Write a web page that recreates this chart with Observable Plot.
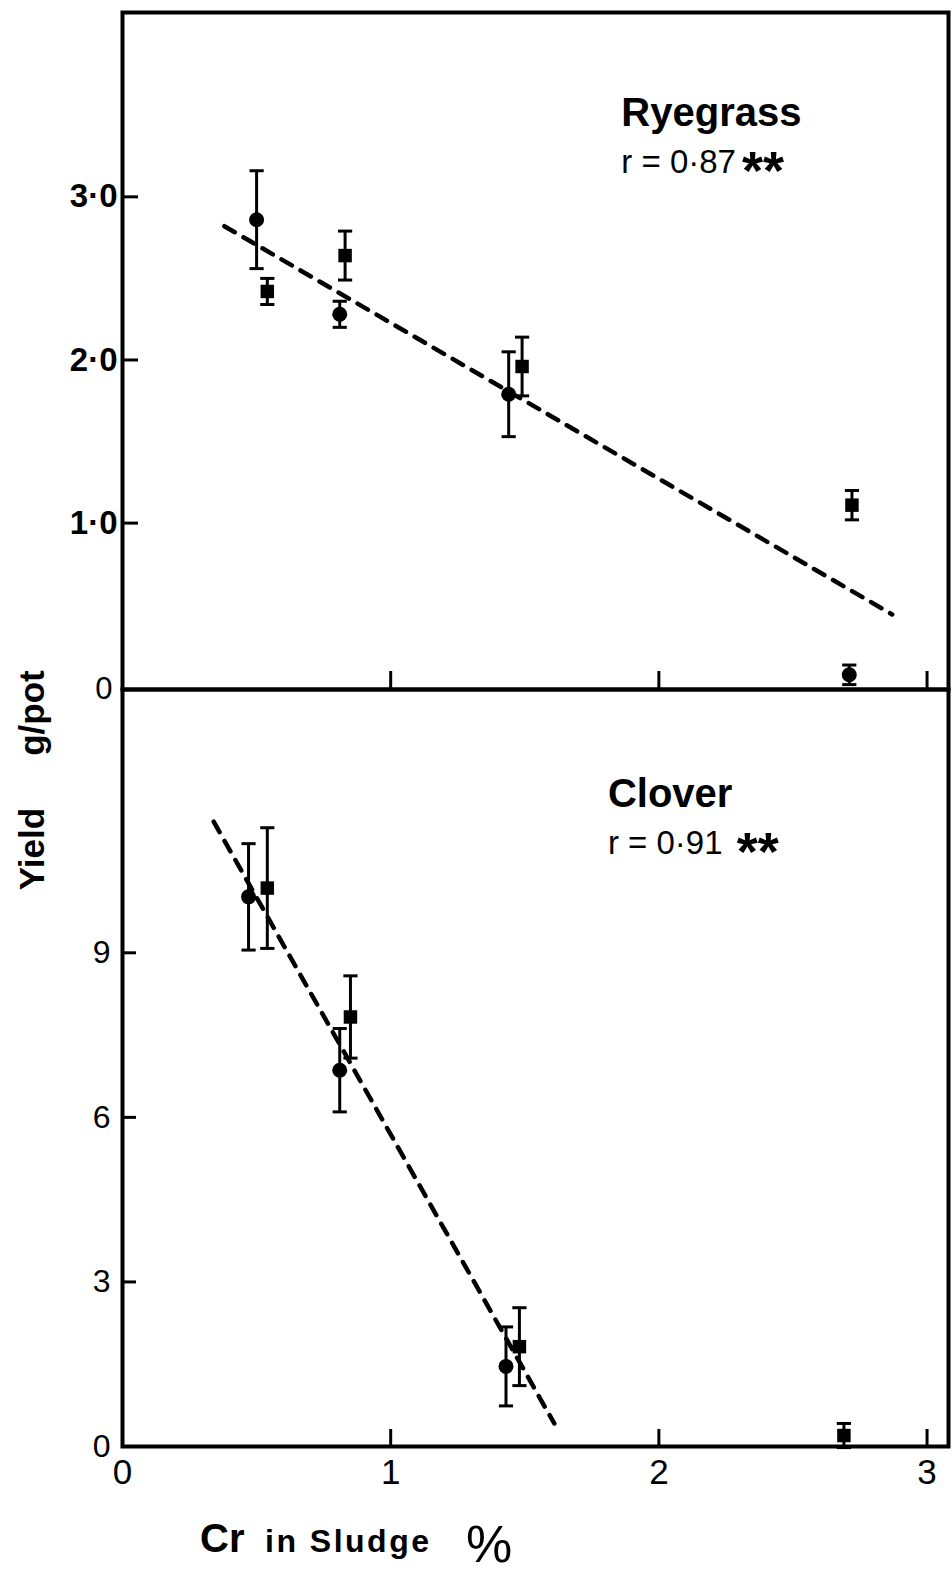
<!DOCTYPE html>
<html><head><meta charset="utf-8">
<script src="https://cdn.jsdelivr.net/npm/d3@7"></script>
<script src="https://cdn.jsdelivr.net/npm/@observablehq/plot@0.6"></script>
<style>
body{margin:0;background:#fff;}
#wrap{position:relative;width:952px;height:1571px;background:#fff;}
#wrap svg{position:absolute;left:0;top:0;overflow:visible;background:transparent;}
</style></head><body><div id="wrap"></div>
<script>
// ---- data ----
const ryeCircleCr    = [0.50, 0.81, 1.44, 2.71];
const ryeCircleYield = [2.86, 2.28, 1.79, 0.07];
const ryeCircleErr   = [0.30, 0.08, 0.26, 0.06];
const ryeSquareCr    = [0.54, 0.83, 1.49, 2.72];
const ryeSquareYield = [2.42, 2.64, 1.96, 1.11];
const ryeSquareErr   = [0.08, 0.15, 0.18, 0.09];
const ryeFitCr       = [0.38, 2.87];
const ryeFitYield    = [2.82, 0.44];

const cloCircleCr    = [0.47, 0.81, 1.43];
const cloCircleYield = [10.02, 6.86, 1.46];
const cloCircleErr   = [0.97, 0.76, 0.72];
const cloSquareCr    = [0.54, 0.85, 1.48, 2.69];
const cloSquareYield = [10.18, 7.83, 1.82, 0.20];
const cloSquareErr   = [1.10, 0.75, 0.71, 0.22];
const cloFitCr       = [0.34, 1.61];
const cloFitYield    = [11.39, 0.42];

const xTicks = [0, 1, 2, 3];
const ryeYTicks = [0, 1, 2, 3];
const cloYTicks = [0, 3, 6, 9];

const ryeLabels = ["Ryegrass", "r = 0·87", "**"];
const cloLabels = ["Clover", "r = 0·91", "**"];

// ---- helpers ----
const pts = (xs, ys, es) => xs.map((x, i) => ({x, y: ys[i], e: es[i]}));
const line = (xs, ys) => xs.map((x, i) => ({x, y: ys[i]}));
const cap = {draw(ctx, size) { const w = Math.sqrt(size); ctx.moveTo(-w / 2, 0); ctx.lineTo(w / 2, 0); }};
const FONT = "'Liberation Sans', Arial, Helvetica, sans-serif";
const fmtRye = d => d === 0 ? "0" : d.toFixed(1).replace(".", "·");

function seriesMarks(circles, squares, fit) {
  const all = circles.concat(squares);
  return [
    Plot.line(fit, {x: "x", y: "y", stroke: "black", strokeWidth: 4.5, strokeDasharray: "12,10", strokeLinecap: "round"}),
    Plot.ruleX(all, {x: "x", y1: d => d.y - d.e, y2: d => d.y + d.e, stroke: "black", strokeWidth: 3}),
    Plot.dot(all, {x: "x", y: d => d.y + d.e, symbol: cap, r: 8, stroke: "black", strokeWidth: 3}),
    Plot.dot(all, {x: "x", y: d => d.y - d.e, symbol: cap, r: 8, stroke: "black", strokeWidth: 3}),
    Plot.dot(circles, {x: "x", y: "y", r: 7.5, fill: "black", stroke: "none"}),
    Plot.dot(squares, {x: "x", y: "y", symbol: "square", r: 7.6, fill: "black", stroke: "none"})
  ];
}

function labelMarks(texts, x, y1, y2, xStar, big) {
  return [
    Plot.text([texts[0]], {x: () => x, y: () => y1, text: d => d, textAnchor: "start", fontSize: big, fontWeight: "bold", fontFamily: FONT}),
    Plot.text([texts[1]], {x: () => x, y: () => y2, text: d => d, textAnchor: "start", fontSize: 33, fontFamily: FONT, letterSpacing: 1.5}),
    Plot.text([texts[2]], {x: () => xStar, y: () => y2, text: d => d, textAnchor: "start", fontSize: 54, fontWeight: "bold", fontFamily: FONT, dy: 9})
  ];
}

// ---- top panel: Ryegrass ----
const topPanel = Plot.plot({
  width: 952, height: 700,
  marginTop: 12, marginBottom: 11, marginLeft: 122, marginRight: 4,
  x: {domain: [0, 3.08]},
  y: {domain: [-0.02, 4.13]},
  style: {fontFamily: FONT, background: "transparent", overflow: "visible"},
  marks: [
    ...seriesMarks(pts(ryeCircleCr, ryeCircleYield, ryeCircleErr), pts(ryeSquareCr, ryeSquareYield, ryeSquareErr), line(ryeFitCr, ryeFitYield)),
    ...labelMarks(ryeLabels, 1.86, 3.51, 3.21, 2.31, 40),
    Plot.axisY({ticks: ryeYTicks.filter(d => d > 0), tickSize: -16, tickFormat: () => "", strokeWidth: 3, label: null}),
    Plot.axisY({ticks: ryeYTicks.filter(d => d > 0), tickSize: 0, tickPadding: 5, tickFormat: fmtRye, fontSize: 33, fontWeight: "bold", label: null}),
    Plot.axisY({ticks: [0], tickSize: 0, tickPadding: 10, tickFormat: fmtRye, fontSize: 31, label: null, dy: 3}),
    Plot.axisX({ticks: xTicks.filter(d => d > 0), tickSize: -18, tickFormat: () => "", strokeWidth: 3, label: null}),
    Plot.frame({stroke: "black", strokeWidth: 4})
  ]
});

// ---- bottom panel: Clover ----
const bottomPanel = Plot.plot({
  width: 952, height: 1571,
  marginTop: 689, marginBottom: 125, marginLeft: 122, marginRight: 4,
  x: {domain: [0, 3.08]},
  y: {domain: [0, 13.8]},
  style: {fontFamily: FONT, background: "transparent", overflow: "visible"},
  marks: [
    ...seriesMarks(pts(cloCircleCr, cloCircleYield, cloCircleErr), pts(cloSquareCr, cloSquareYield, cloSquareErr), line(cloFitCr, cloFitYield)),
    ...labelMarks(cloLabels, 1.81, 11.9, 10.99, 2.29, 40),
    Plot.axisY({ticks: cloYTicks.filter(d => d > 0), tickSize: -14, tickFormat: () => "", strokeWidth: 3, label: null}),
    Plot.axisY({ticks: cloYTicks, tickSize: 0, tickPadding: 12, tickFormat: d => String(d), fontSize: 32, label: null}),
    Plot.axisX({ticks: xTicks.filter(d => d > 0), tickSize: -17, tickFormat: () => "", strokeWidth: 3, label: null}),
    Plot.axisX({ticks: xTicks, tickSize: 0, tickPadding: 13, tickFormat: d => String(d), fontSize: 35, label: null}),
    Plot.frame({stroke: "black", strokeWidth: 4})
  ]
});

const wrap = document.getElementById("wrap");
wrap.appendChild(bottomPanel);
wrap.appendChild(topPanel);

// axis titles
const svg = d3.select(bottomPanel);
const yl = svg.append("g").attr("font-family", FONT).attr("font-weight", "bold").attr("font-size", 35).attr("fill", "black").attr("text-anchor", "middle");
yl.append("text").attr("transform", "translate(44,849) rotate(-90)").text("Yield");
yl.append("text").attr("transform", "translate(44,713) rotate(-90)").text("g/pot");

const xl = svg.append("g").attr("font-family", FONT).attr("font-weight", "bold").attr("fill", "black").attr("text-anchor", "start");
xl.append("text").attr("x", 200).attr("y", 1552).attr("font-size", 40).text("Cr");
xl.append("text").attr("x", 265).attr("y", 1552).attr("font-size", 32).attr("letter-spacing", 2.5).text("in Sludge");
xl.append("text").attr("x", 466).attr("y", 1562).attr("font-size", 52).attr("font-weight", "normal").text("%");
</script>
</body></html>
